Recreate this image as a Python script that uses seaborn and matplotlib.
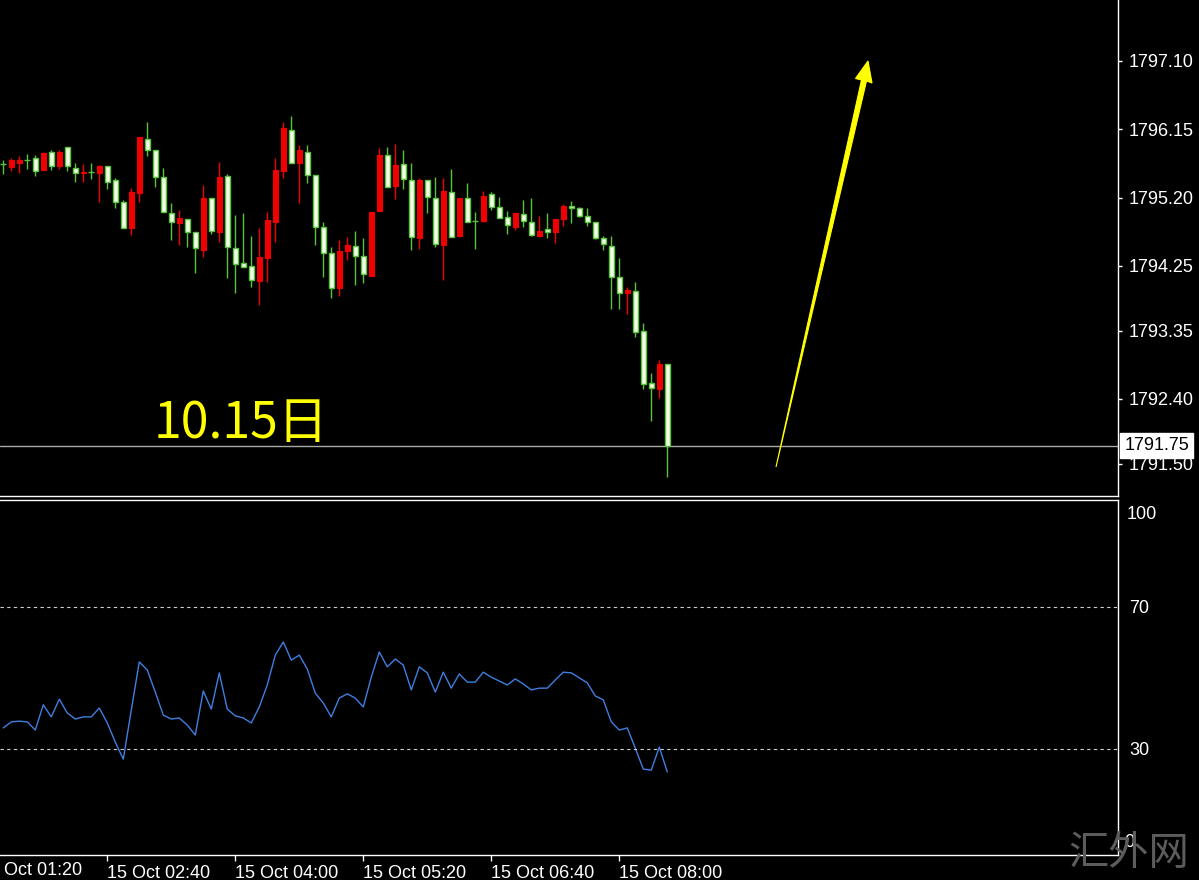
import numpy as np
import pandas as pd
import seaborn as sns
import matplotlib.pyplot as plt
from matplotlib.patches import Polygon
from matplotlib.transforms import blended_transform_factory

# 5 minute candles, 15 Oct 01:35 - 08:30
opens = [
    1795.67, 1795.63, 1795.68, 1795.72, 1795.75, 1795.58, 1795.83, 1795.64, 1795.90, 1795.61,
    1795.54, 1795.56, 1795.54, 1795.64, 1795.45, 1795.14, 1794.78, 1795.26, 1796.02, 1795.86,
    1795.49, 1794.99, 1794.85, 1794.90, 1794.72, 1794.47, 1795.19, 1794.72, 1795.50, 1794.50,
    1794.29, 1794.25, 1794.04, 1794.36, 1794.86, 1795.57, 1796.14, 1795.68, 1795.83, 1795.51,
    1794.79, 1794.43, 1793.94, 1794.46, 1794.53, 1794.39, 1794.11, 1795.01, 1795.79, 1795.36,
    1795.67, 1795.44, 1794.64, 1795.44, 1795.19, 1794.54, 1795.28, 1794.67, 1795.19, 1794.87,
    1794.87, 1795.25, 1795.07, 1794.93, 1794.79, 1794.97, 1794.86, 1794.67, 1794.76, 1794.72,
    1794.90, 1795.08, 1795.06, 1794.94, 1794.86, 1794.64, 1794.53, 1794.10, 1793.87, 1793.90,
    1793.35, 1792.62, 1792.54, 1792.89]
highs = [
    1795.72, 1795.75, 1795.78, 1795.81, 1795.79, 1795.83, 1795.86, 1795.86, 1795.90, 1795.68,
    1795.67, 1795.68, 1795.65, 1795.64, 1795.47, 1795.17, 1795.33, 1796.04, 1796.25, 1795.86,
    1795.61, 1795.13, 1795.03, 1794.90, 1794.72, 1795.37, 1795.19, 1795.70, 1795.53, 1794.96,
    1794.99, 1794.67, 1794.78, 1795.00, 1795.75, 1796.25, 1796.34, 1795.93, 1795.93, 1795.51,
    1794.86, 1794.51, 1794.61, 1794.65, 1794.74, 1794.64, 1795.00, 1795.89, 1795.90, 1795.95,
    1795.86, 1795.68, 1795.47, 1795.44, 1795.49, 1795.47, 1795.60, 1795.19, 1795.40, 1795.00,
    1795.29, 1795.28, 1795.21, 1795.01, 1794.99, 1795.17, 1795.19, 1794.94, 1794.99, 1794.90,
    1795.11, 1795.15, 1795.07, 1795.06, 1794.86, 1794.67, 1794.67, 1794.36, 1793.96, 1794.03,
    1793.46, 1792.76, 1792.94, 1792.89]
lows = [
    1795.53, 1795.57, 1795.54, 1795.60, 1795.50, 1795.58, 1795.58, 1795.60, 1795.57, 1795.42,
    1795.42, 1795.46, 1795.14, 1795.32, 1795.06, 1794.78, 1794.68, 1795.14, 1795.78, 1795.35,
    1795.00, 1794.61, 1794.54, 1794.51, 1794.15, 1794.37, 1794.69, 1794.58, 1794.08, 1793.87,
    1794.24, 1793.96, 1793.71, 1794.03, 1794.58, 1795.47, 1795.68, 1795.13, 1795.40, 1794.54,
    1794.10, 1793.80, 1793.83, 1794.33, 1793.98, 1794.01, 1794.11, 1795.01, 1795.35, 1795.18,
    1795.32, 1794.47, 1794.49, 1794.99, 1794.51, 1794.05, 1794.65, 1794.65, 1794.86, 1794.49,
    1794.86, 1795.03, 1794.92, 1794.69, 1794.75, 1794.79, 1794.67, 1794.65, 1794.64, 1794.57,
    1794.81, 1794.85, 1794.93, 1794.81, 1794.62, 1794.47, 1793.65, 1793.65, 1793.58, 1793.26,
    1792.54, 1792.09, 1792.41, 1791.31]
closes = [
    1795.67, 1795.72, 1795.72, 1795.72, 1795.57, 1795.82, 1795.64, 1795.83, 1795.64, 1795.54,
    1795.56, 1795.56, 1795.64, 1795.42, 1795.14, 1794.78, 1795.28, 1796.04, 1795.86, 1795.49,
    1795.00, 1794.86, 1794.92, 1794.72, 1794.50, 1795.19, 1794.74, 1795.49, 1794.51, 1794.28,
    1794.24, 1794.05, 1794.37, 1794.89, 1795.58, 1796.17, 1795.68, 1795.86, 1795.51, 1794.79,
    1794.43, 1793.94, 1794.46, 1794.54, 1794.39, 1794.14, 1795.00, 1795.79, 1795.35, 1795.65,
    1795.46, 1794.65, 1795.44, 1795.21, 1794.55, 1795.29, 1794.65, 1795.19, 1794.86, 1794.87,
    1795.22, 1795.07, 1794.92, 1794.82, 1794.99, 1794.87, 1794.68, 1794.74, 1794.72, 1794.90,
    1795.08, 1795.06, 1794.94, 1794.86, 1794.64, 1794.55, 1794.10, 1793.87, 1793.92, 1793.33,
    1792.61, 1792.55, 1792.89, 1791.75]
rsi = [
    35.8, 37.5, 37.7, 37.5, 35.2, 42.3, 38.9, 43.9, 40.0, 38.3,
    38.9, 38.9, 41.4, 37.2, 31.8, 27.0, 40.8, 54.4, 52.1, 45.9,
    39.4, 38.3, 38.6, 36.6, 33.8, 46.2, 41.1, 51.3, 41.1, 39.2,
    38.6, 37.2, 41.7, 47.9, 56.3, 60.0, 54.9, 56.3, 52.4, 45.6,
    42.8, 38.9, 44.2, 45.4, 44.2, 41.7, 50.1, 57.2, 53.0, 55.2,
    53.5, 46.5, 53.0, 51.3, 45.9, 51.5, 47.0, 51.0, 48.7, 48.7,
    51.5, 50.1, 49.0, 47.9, 49.6, 48.2, 46.5, 47.0, 47.0, 49.3,
    51.5, 51.3, 49.9, 48.5, 44.8, 43.7, 37.5, 35.2, 35.8, 30.1,
    24.2, 23.9, 30.4, 23.4]

times = pd.date_range("2021-10-15 01:35", periods=len(closes), freq="5min")
time_labels = ["15 Oct 01:20", "15 Oct 02:40", "15 Oct 04:00",
               "15 Oct 05:20", "15 Oct 06:40", "15 Oct 08:00"]
price_ticks = [1797.10, 1796.15, 1795.20, 1794.25, 1793.35, 1792.40, 1791.50]
top_label = 1798.05
rsi_levels = [70, 30]
last_price = 1791.75
note = "10.15日"
watermark = "汇外网"

df = pd.DataFrame({"time": times, "open": opens, "high": highs,
                   "low": lows, "close": closes, "rsi": rsi})
df["i"] = np.arange(len(df))
label_pos = [int(np.searchsorted(times, pd.Timestamp("2021-10-15 " + t[-5:]))) for t in time_labels[1:]]
label_pos = [label_pos[0] - 16] + label_pos

sns.set_style("dark", {"axes.facecolor": "black", "figure.facecolor": "black"})
plt.rcParams['font.family'] = ['Liberation Sans', 'Noto Sans CJK SC', 'DejaVu Sans']

W, H = 1199, 880
fig = plt.figure(figsize=(W / 100, H / 100), dpi=100)
ax = fig.add_axes([0, 1 - 496 / H, 1118 / W, 496 / H])
ax2 = fig.add_axes([0, 25 / H, 1118 / W, 355 / H])

green = "#58c43c"
red = "#f00000"
cream = "#f2ffe4"
xlim = (-0.41, 139.34)

bull = df["close"] > df["open"]
bear = df["close"] < df["open"]
doji = df["close"] == df["open"]
wick_col = np.where(bull, red, green)
ax.vlines(df["i"], df["low"], df["high"], colors=wick_col, lw=1, zorder=2)
body_lo = df[["open", "close"]].min(axis=1)
body_h = (df["close"] - df["open"]).abs()
ax.bar(df["i"][bull], body_h[bull], bottom=body_lo[bull], width=0.68,
       color=red, edgecolor=red, linewidth=0.8, zorder=3)
ax.bar(df["i"][bear], body_h[bear], bottom=body_lo[bear], width=0.68,
       color=cream, edgecolor=green, linewidth=1.0, zorder=3)
ax.hlines(df["close"][doji], df["i"][doji] - 0.4, df["i"][doji] + 0.4,
          colors=green, lw=1, zorder=3)

ax.axhline(last_price, color="#a8a8a8", lw=1, zorder=1)
ax.set_xlim(*xlim)
ax.set_ylim(1791.05, 1797.948)
ax.yaxis.tick_right()
ax.set_yticks(price_ticks)
ax.set_yticklabels([f"{p:.2f}" for p in price_ticks])
ax.tick_params(axis="y", colors="white", labelcolor="white", labelsize=13,
               length=3, width=1, pad=5, right=True, left=False)
ax.set_xticks([])
bt1 = blended_transform_factory(ax.transAxes, ax.transData)
ax.text(1.0 + 9 / 1118, top_label, f"{top_label:.2f}", transform=bt1,
        color="white", fontsize=13, va="center", ha="left", clip_on=False)
ax.annotate(f"{last_price:.2f}", xy=(1.0, last_price), xycoords=("axes fraction", "data"),
            xytext=(4.5, 0), textcoords="offset points", color="black", fontsize=13,
            va="center", ha="left", annotation_clip=False,
            bbox=dict(boxstyle="square,pad=0.22", fc="white", ec="white"))

for s in ["top", "left"]:
    ax.spines[s].set_visible(False)
for s in ["right", "bottom"]:
    ax.spines[s].set_color("white")
    ax.spines[s].set_linewidth(1)

# yellow arrow (pixel geometry of the price panel)
def pf(px, py):
    return (px / 1118, 1 - py / 496)

arrow_pts = [pf(776, 467), pf(866.5, 81), pf(872, 83), pf(868, 61),
             pf(855.5, 78.5), pf(861.5, 80)]
ax.add_patch(Polygon(arrow_pts, closed=True, transform=ax.transAxes,
                     fc="#ffff00", ec="#ffff00", lw=0.8, zorder=5))
ax.text(154 / 1118, 1 - 438 / 496, note, transform=ax.transAxes, color="#ffff00",
        fontsize=36, va="baseline", ha="left",
        family=["Noto Sans CJK SC", "DejaVu Sans"], zorder=5)

# RSI panel
sns.lineplot(data=df, x="i", y="rsi", ax=ax2, color="#3f7fe0", lw=1)
for lv in rsi_levels:
    ax2.axhline(lv, color="#d0d0d0", lw=0.8, ls=(0, (3, 3)))
ax2.set_xlim(*xlim)
ax2.set_ylim(0, 100)
ax2.set_xlabel("")
ax2.set_ylabel("")
ax2.yaxis.tick_right()
ax2.set_yticks(rsi_levels)
ax2.set_yticklabels([str(v) for v in rsi_levels])
ax2.tick_params(axis="y", colors="white", labelcolor="white", labelsize=13,
                length=0, pad=8, right=True, left=False)

fig.text(1068 / W, 1 - 865 / H, watermark, color="#5c5c5c", fontsize=29,
         va="baseline", ha="left", family=["Noto Sans CJK SC"], weight="light", zorder=0)

bt = blended_transform_factory(ax2.transAxes, ax2.transData)
ax2.text(1.0 + 9 / 1118, 96, "100", transform=bt, color="white", fontsize=13,
         va="center", ha="left", clip_on=False)
ax2.text(1.0 + 6 / 1118, 3.4, "0", transform=bt, color="white", fontsize=13,
         va="center", ha="left", clip_on=False, zorder=6)

ax2.set_xticks(label_pos[1:])
ax2.set_xticklabels(time_labels[1:], ha="left")
ax2.tick_params(axis="x", colors="white", labelcolor="white", labelsize=13,
                length=4, width=1, pad=3, bottom=True)
ax2.text(label_pos[0], -0.045, time_labels[0], transform=ax2.get_xaxis_transform(),
         color="white", fontsize=13, va="center", ha="left", clip_on=False)
ax2.grid(False)
ax.grid(False)
ax2.spines["left"].set_visible(False)
for s in ["top", "right", "bottom"]:
    ax2.spines[s].set_color("white")
    ax2.spines[s].set_linewidth(1)

fig.savefig("out.png", dpi=100, facecolor="black")
